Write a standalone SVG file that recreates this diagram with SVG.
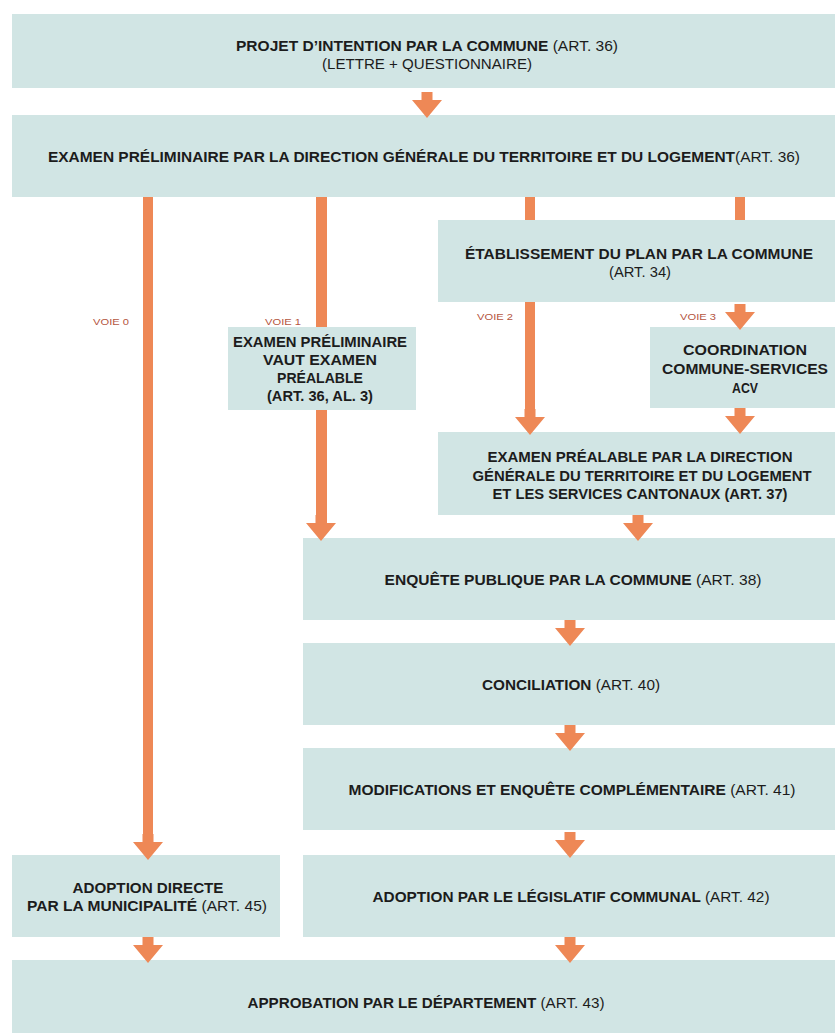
<svg xmlns="http://www.w3.org/2000/svg" xmlns:xlink="http://www.w3.org/1999/xlink" width="835" height="1033" viewBox="0 0 835 1033">
<style>
.box{fill:#d1e5e4}
.t{font-family:"Liberation Sans",Arial,sans-serif;font-size:14px;font-weight:bold;fill:#1c1c1c;text-anchor:middle}
.r{font-weight:normal}
.v{font-family:"Liberation Sans",Arial,sans-serif;font-size:9px;fill:#b5563f;text-anchor:middle}
.c{fill:#ee8856}
</style>
<defs>
<path id="ah" d="M-5.5,-26 H5.5 V-18 H15 L0,0 L-15,-18 H-5.5 Z"/>
</defs>
<rect width="835" height="1033" fill="#ffffff"/>

<g id="n1"><rect class="box" x="12" y="14" width="823" height="74"/>
<text class="t" x="427" y="51" textLength="382" lengthAdjust="spacingAndGlyphs">PROJET D’INTENTION PAR LA COMMUNE <tspan class="r">(ART. 36)</tspan></text>
<text class="t r" x="427" y="69" textLength="210" lengthAdjust="spacingAndGlyphs">(LETTRE + QUESTIONNAIRE)</text></g>

<g id="n2"><rect class="box" x="12" y="115" width="823" height="82"/>
<text class="t" x="424" y="162" textLength="752" lengthAdjust="spacingAndGlyphs">EXAMEN PRÉLIMINAIRE PAR LA DIRECTION GÉNÉRALE DU TERRITOIRE ET DU LOGEMENT<tspan class="r">(ART. 36)</tspan></text></g>

<g id="n3"><rect class="box" x="438" y="220" width="397" height="82"/>
<text class="t" x="639" y="259" textLength="348" lengthAdjust="spacingAndGlyphs">ÉTABLISSEMENT DU PLAN PAR LA COMMUNE</text>
<text class="t r" x="640" y="277" textLength="62" lengthAdjust="spacingAndGlyphs">(ART. 34)</text></g>

<g id="n4"><rect class="box" x="228" y="327" width="188" height="83"/>
<text class="t" x="320" y="347" textLength="174" lengthAdjust="spacingAndGlyphs">EXAMEN PRÉLIMINAIRE</text>
<text class="t" x="320" y="365" textLength="114" lengthAdjust="spacingAndGlyphs">VAUT EXAMEN</text>
<text class="t" x="320" y="383" textLength="86" lengthAdjust="spacingAndGlyphs">PRÉALABLE</text>
<text class="t" x="320" y="401" textLength="106" lengthAdjust="spacingAndGlyphs">(ART. 36, AL. 3)</text></g>

<g id="n5"><rect class="box" x="650" y="327" width="185" height="81"/>
<text class="t" x="745" y="355" textLength="124" lengthAdjust="spacingAndGlyphs">COORDINATION</text>
<text class="t" x="745" y="374" textLength="166" lengthAdjust="spacingAndGlyphs">COMMUNE-SERVICES</text>
<text class="t" x="745" y="393" textLength="26" lengthAdjust="spacingAndGlyphs">ACV</text></g>

<g id="n6"><rect class="box" x="438" y="432" width="397" height="83"/>
<text class="t" x="640" y="462" textLength="305" lengthAdjust="spacingAndGlyphs">EXAMEN PRÉALABLE PAR LA DIRECTION</text>
<text class="t" x="642" y="481" textLength="339" lengthAdjust="spacingAndGlyphs">GÉNÉRALE DU TERRITOIRE ET DU LOGEMENT</text>
<text class="t" x="640" y="499" textLength="295" lengthAdjust="spacingAndGlyphs">ET LES SERVICES CANTONAUX (ART. 37)</text></g>

<g id="n7"><rect class="box" x="303" y="538" width="532" height="82"/>
<text class="t" x="573" y="585" textLength="377" lengthAdjust="spacingAndGlyphs">ENQUÊTE PUBLIQUE PAR LA COMMUNE <tspan class="r">(ART. 38)</tspan></text></g>

<g id="n8"><rect class="box" x="303" y="643" width="532" height="82"/>
<text class="t" x="571" y="690" textLength="178" lengthAdjust="spacingAndGlyphs">CONCILIATION <tspan class="r">(ART. 40)</tspan></text></g>

<g id="n9"><rect class="box" x="303" y="748" width="532" height="82"/>
<text class="t" x="572" y="795" textLength="447" lengthAdjust="spacingAndGlyphs">MODIFICATIONS ET ENQUÊTE COMPLÉMENTAIRE <tspan class="r">(ART. 41)</tspan></text></g>

<g id="n10"><rect class="box" x="12" y="855" width="268" height="82"/>
<text class="t" x="148" y="893" textLength="151" lengthAdjust="spacingAndGlyphs">ADOPTION DIRECTE</text>
<text class="t" x="147" y="911" textLength="240" lengthAdjust="spacingAndGlyphs">PAR LA MUNICIPALITÉ <tspan class="r">(ART. 45)</tspan></text></g>

<g id="n11"><rect class="box" x="303" y="855" width="532" height="82"/>
<text class="t" x="571" y="902" textLength="397" lengthAdjust="spacingAndGlyphs">ADOPTION PAR LE LÉGISLATIF COMMUNAL <tspan class="r">(ART. 42)</tspan></text></g>

<g id="n12"><rect class="box" x="12" y="960" width="823" height="73"/>
<text class="t" x="426" y="1008" textLength="357" lengthAdjust="spacingAndGlyphs">APPROBATION PAR LE DÉPARTEMENT <tspan class="r">(ART. 43)</tspan></text></g>

<g id="connectors" class="c">
<use xlink:href="#ah" href="#ah" x="427" y="118"/>
<!-- voie 0 -->
<rect x="143" y="197" width="10" height="648"/>
<use xlink:href="#ah" href="#ah" x="148" y="860"/>
<!-- voie 1 -->
<rect x="316" y="197" width="11" height="130"/>
<rect x="316" y="410" width="11" height="115"/>
<use xlink:href="#ah" href="#ah" x="321" y="541"/>
<!-- voie 2 -->
<rect x="525" y="197" width="10" height="23"/>
<rect x="525" y="302" width="10" height="115"/>
<use xlink:href="#ah" href="#ah" x="530" y="435"/>
<!-- voie 3 -->
<rect x="735" y="197" width="10" height="23"/>
<use xlink:href="#ah" href="#ah" x="740" y="330"/>
<use xlink:href="#ah" href="#ah" x="740" y="434"/>
<use xlink:href="#ah" href="#ah" x="638" y="541"/>
<use xlink:href="#ah" href="#ah" x="570" y="646"/>
<use xlink:href="#ah" href="#ah" x="570" y="751"/>
<use xlink:href="#ah" href="#ah" x="570" y="858"/>
<use xlink:href="#ah" href="#ah" x="148" y="963"/>
<use xlink:href="#ah" href="#ah" x="570" y="963"/>
</g>

<g id="labels">
<text class="v" x="111" y="325" textLength="36" lengthAdjust="spacingAndGlyphs">VOIE 0</text>
<text class="v" x="283" y="325" textLength="36" lengthAdjust="spacingAndGlyphs">VOIE 1</text>
<text class="v" x="495" y="320" textLength="36" lengthAdjust="spacingAndGlyphs">VOIE 2</text>
<text class="v" x="698" y="320" textLength="36" lengthAdjust="spacingAndGlyphs">VOIE 3</text>
</g>
</svg>
